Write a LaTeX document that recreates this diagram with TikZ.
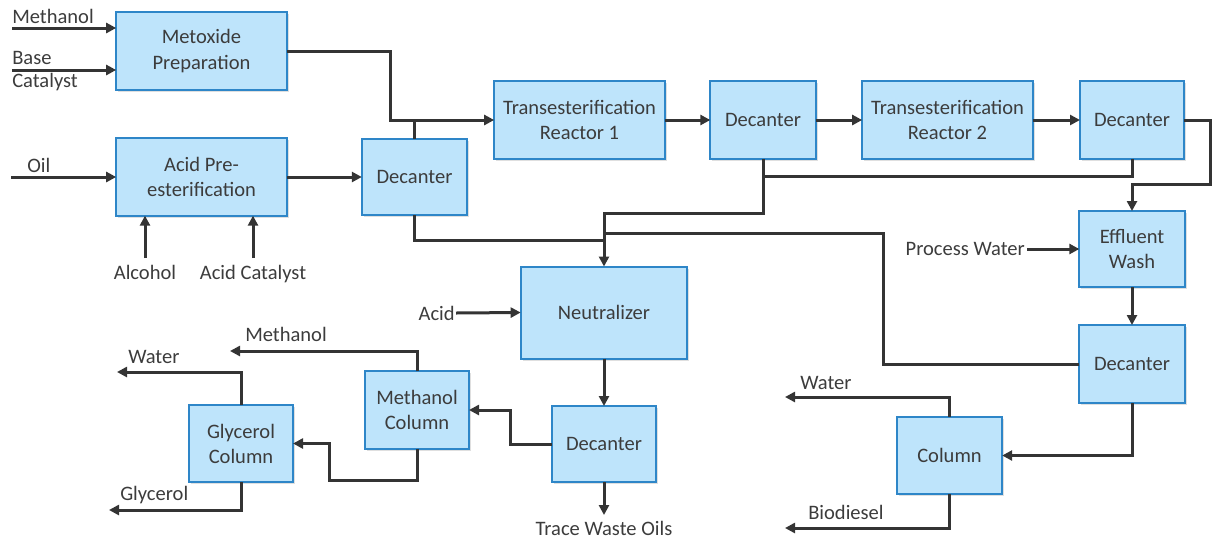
\documentclass[tikz,border=0pt]{standalone}
\usepackage{fontspec}
\setmainfont{Carlito}
\usetikzlibrary{arrows.meta,shadows}
\definecolor{boxfill}{RGB}{190,228,251}
\definecolor{boxline}{RGB}{46,134,200}
\definecolor{pipe}{RGB}{52,52,52}
\definecolor{txt}{RGB}{60,60,60}
\begin{document}
\begin{tikzpicture}[x=0.75pt, y=-0.75pt,
    box/.style={draw=boxline, line width=1.5pt, fill=boxfill, text=txt, align=center,
        inner sep=0pt, outer sep=0pt, font=\fontsize{15.4}{18.8}\selectfont,
        drop shadow={shadow xshift=1.5pt, shadow yshift=-1.5pt, opacity=0.25}},
    lbl/.style={text=txt, inner sep=0pt, font=\fontsize{15.4}{18.8}\selectfont},
    pipeline/.style={draw=pipe, line width=2.25pt},
    flow/.style={pipeline, -{Triangle[length=7.5pt, width=7.5pt]}}]

    \useasboundingbox (0,0) rectangle (1213,540);

    % process units
    \node[box, minimum width=128pt, minimum height=58.5pt] (prep) at (201.5,51) {Metoxide\\Preparation};
    \node[box, minimum width=128pt, minimum height=58pt] (acidpre) at (201.5,177) {Acid Pre-\\esterification};
    \node[box, minimum width=79pt, minimum height=57pt] (dec1) at (414.5,177) {Decanter};
    \node[box, minimum width=128pt, minimum height=58pt] (tr1) at (579.5,120) {Transesterification\\Reactor 1};
    \node[box, minimum width=79pt, minimum height=58pt] (dec2) at (763,120) {Decanter};
    \node[box, minimum width=128pt, minimum height=58pt] (tr2) at (947.5,120) {Transesterification\\Reactor 2};
    \node[box, minimum width=78pt, minimum height=58pt] (dec3) at (1132,120) {Decanter};
    \node[box, minimum width=79pt, minimum height=57pt] (wash) at (1132,249) {Effluent\\Wash};
    \node[box, minimum width=79pt, minimum height=58.5pt] (dec4) at (1132,364) {Decanter};
    \node[box, minimum width=79pt, minimum height=58pt] (col) at (949.5,455.5) {Column};
    \node[box, minimum width=125pt, minimum height=69pt] (neut) at (604,312.5) {Neutralizer};
    \node[box, minimum width=78pt, minimum height=57pt] (dec5) at (604,444) {Decanter};
    \node[box, minimum width=78pt, minimum height=58pt] (mcol) at (417,410) {Methanol\\Column};
    \node[box, minimum width=78pt, minimum height=58pt] (gcol) at (241,443.5) {Glycerol\\Column};

    % feeds and products
    \coordinate (inMeth) at (12,28);
    \coordinate (inBase) at (12,70);
    \coordinate (inOil) at (11,177);
    \coordinate (inAlc) at (145,258);
    \coordinate (inAcCat) at (253,258);
    \coordinate (inPW) at (1027,249);
    \coordinate (inAcid) at (456,313);
    \coordinate (outTrace) at (604,515);
    \coordinate (outWater) at (785,397);
    \coordinate (outBio) at (785,528);
    \coordinate (outMeth) at (230,351);
    \coordinate (outW) at (117,372);
    \coordinate (outGly) at (109,510);

    % bends and joins
    \coordinate (bendA) at (390,120);
    \coordinate (j240) at (604,240);
    \coordinate (j233) at (604,233);
    \coordinate (j213) at (604,213);
    \coordinate (j176) at (763,176);
    \coordinate (edgeR) at (1210,184);
    \coordinate (bendB) at (883,233);
    \coordinate (bendC) at (510,410);
    \coordinate (bendD) at (329,480);

    \node[lbl, anchor=base west] at (12,23) {Methanol};
    \node[lbl, anchor=base west] at (12,64) {Base};
    \node[lbl, anchor=base west] at (12,87) {Catalyst};
    \node[lbl, anchor=base west] at (27,172) {Oil};
    \node[lbl, anchor=base] at (145,279) {Alcohol};
    \node[lbl, anchor=base] at (253,279) {Acid Catalyst};
    \node[lbl, anchor=east] at (1025,249) {Process Water};
    \node[lbl, anchor=east] at (455,313) {Acid};
    \node[lbl, anchor=base] at (604,535) {Trace Waste Oils};
    \node[lbl, anchor=base west] at (800,389) {Water};
    \node[lbl, anchor=base west] at (808,519) {Biodiesel};
    \node[lbl, anchor=base west] at (245,341) {Methanol};
    \node[lbl, anchor=base west] at (128,363) {Water};
    \node[lbl, anchor=base west] at (120,500) {Glycerol};

    % streams
    \draw[flow] (inMeth) -- (inMeth -| prep.west);
    \draw[flow] (inBase) -- (inBase -| prep.west);
    \draw[flow] (inOil) -- (acidpre.west);
    \draw[flow] (inAlc) -- (inAlc |- acidpre.south);
    \draw[flow] (inAcCat) -- (inAcCat |- acidpre.south);
    \draw[flow] (prep.east) -| (bendA) -- (tr1.west);
    \draw[pipeline] (dec1.north) -- (dec1.north |- bendA);
    \draw[flow] (acidpre.east) -- (dec1.west);
    \draw[flow] (tr1.east) -- (dec2.west);
    \draw[flow] (dec2.east) -- (tr2.west);
    \draw[flow] (tr2.east) -- (dec3.west);
    \draw[pipeline] (dec1.south) |- (j240);
    \draw[flow] (dec2.south) |- (j213) -- (neut.north);
    \draw[pipeline] (dec3.south) |- (j176);
    \draw[flow] (dec3.east) -| (edgeR) -| (wash.north);
    \draw[flow] (inPW) -- (wash.west);
    \draw[flow] (wash.south) -- (dec4.north);
    \draw[pipeline] (dec4.west) -| (bendB) -- (j233);
    \draw[flow] (dec4.south) |- (col.east);
    \draw[flow] (col.north) |- (outWater);
    \draw[flow] (col.south) |- (outBio);
    \draw[flow] (inAcid) -- (neut.west);
    \draw[flow] (neut.south) -- (dec5.north);
    \draw[flow] (dec5.south) -- (outTrace);
    \draw[flow] (dec5.west) -| (bendC) -- (mcol.east);
    \draw[flow] (mcol.south) |- (bendD) |- (gcol.east);
    \draw[flow] (mcol.north) |- (outMeth);
    \draw[flow] (gcol.north) |- (outW);
    \draw[flow] (gcol.south) |- (outGly);

\end{tikzpicture}
\end{document}
